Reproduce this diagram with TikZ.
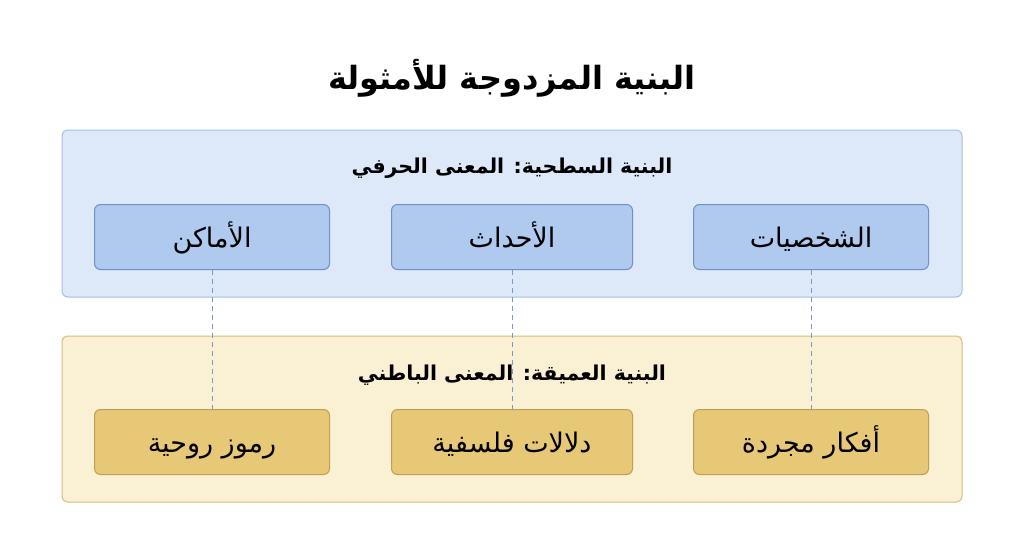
\documentclass[tikz,border=0pt]{standalone}
\usepackage{fontspec}
\newfontfamily\arabicfont[Script=Arabic]{DejaVu Sans}
\TeXXeTstate=1
\definecolor{surfacefill}{HTML}{DDE8F8}
\definecolor{surfaceline}{HTML}{A8C0E6}
\definecolor{surfacebox}{HTML}{AFC9EF}
\definecolor{surfaceboxline}{HTML}{6F90C8}
\definecolor{deepfill}{HTML}{FAF0D3}
\definecolor{deepline}{HTML}{D8BD7C}
\definecolor{deepbox}{HTML}{E6C877}
\definecolor{deepboxline}{HTML}{C19E52}
\definecolor{linkline}{HTML}{7D98C8}
\tikzset{
	panel/.style={rounded corners=6pt, line width=1pt},
	item/.style={rounded corners=6pt, line width=1pt, minimum width=235pt, minimum height=65pt, text height=20pt, text depth=0pt, font=\arabicfont\fontsize{27}{30}\selectfont},
	header/.style={anchor=base, font=\arabicfont\bfseries\fontsize{20.5}{24}\selectfont},
	link/.style={linkline, dashed, dash pattern=on 5pt off 4pt, line width=0.9pt}
}
\begin{document}
\begin{tikzpicture}[x=1pt, y=-1pt]
	\useasboundingbox[fill=white] (0,0) rectangle (1024,559);
	%title
	\node[anchor=base] (title) at (512,90) {\arabicfont\bfseries\fontsize{32}{36}\selectfont\beginR البنية المزدوجة للأمثولة\endR};
	%panels
	\draw[panel, fill=surfacefill, draw=surfaceline] (62,130) rectangle (962,297);
	\draw[panel, fill=deepfill, draw=deepline] (62,336) rectangle (962,502);
	%links
	\coordinate (l1) at (212,270);
	\coordinate (l2) at (512,270);
	\coordinate (l3) at (811,270);
	\coordinate (m1) at (212,410);
	\coordinate (m2) at (512,410);
	\coordinate (m3) at (811,410);
	\draw[link] (l1) -- (m1);
	\draw[link] (l2) -- (m2);
	\draw[link] (l3) -- (m3);
	%panel headers
	\node[header] (surface) at (512,173) {\beginR البنية السطحية: المعنى الحرفي\endR};
	\node[header] (deep) at (512,380) {\beginR البنية العميقة: المعنى الباطني\endR};
	%top boxes
	\node[item, fill=surfacebox, draw=surfaceboxline] (places) at (212,237) {\beginR الأماكن\endR};
	\node[item, fill=surfacebox, draw=surfaceboxline, minimum width=241pt] (events) at (512,237) {\beginR الأحداث\endR};
	\node[item, fill=surfacebox, draw=surfaceboxline] (characters) at (811,237) {\beginR الشخصيات\endR};
	%bottom boxes
	\node[item, fill=deepbox, draw=deepboxline] (symbols) at (212,442) {\beginR رموز روحية\endR};
	\node[item, fill=deepbox, draw=deepboxline, minimum width=241pt] (meanings) at (512,442) {\beginR دلالات فلسفية\endR};
	\node[item, fill=deepbox, draw=deepboxline] (ideas) at (811,442) {\beginR أفكار مجردة\endR};
\end{tikzpicture}
\end{document}
